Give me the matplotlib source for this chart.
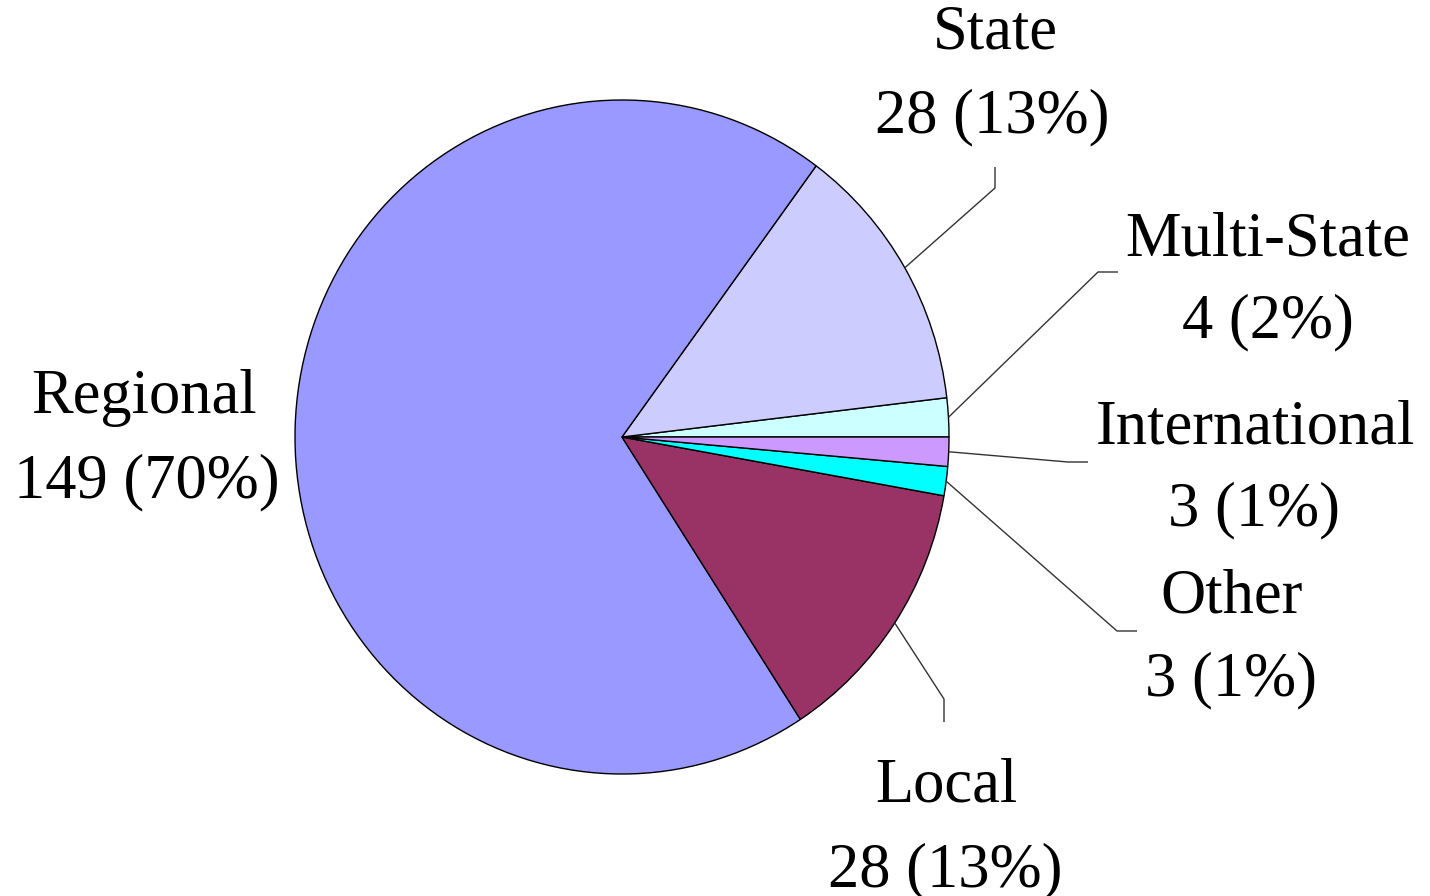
import numpy as np
import matplotlib
matplotlib.use("Agg")
import matplotlib.pyplot as plt

# Data (counter-clockwise from 0 degrees)
categories = ["Multi-State", "State", "Regional", "Local", "Other", "International"]
counts = [4, 28, 149, 28, 3, 3]
pct_labels = ["2%", "13%", "70%", "13%", "1%", "1%"]
colors = ["#CCFFFF", "#CCCCFF", "#9999FF", "#993366", "#00FFFF", "#CC99FF"]

W, H = 1430, 896
CX, CY = 622, 437       # pie centre in pixels
RX, RY = 327, 337       # pie radii in pixels

fig = plt.figure(figsize=(W / 100, H / 100), dpi=100)
ax = fig.add_axes([0, 0, 1, 1])
ax.set_xlim(-CX / RX, (W - CX) / RX)
ax.set_ylim(-(H - CY) / RY, CY / RY)
ax.axis("off")

wedges, _ = ax.pie(counts, colors=colors, startangle=0, counterclock=True,
                   radius=1.0, center=(0, 0), frame=True,
                   wedgeprops=dict(edgecolor="black", linewidth=1.0))
ax.set_xlim(-CX / RX, (W - CX) / RX)
ax.set_ylim(-(H - CY) / RY, CY / RY)
ax.set_aspect("auto")
ax.axis("off")


def px(x, y):
    return (x - CX) / RX, (CY - y) / RY


font = dict(family=["Liberation Serif", "DejaVu Serif"], fontsize=45, color="black")

# label layout: (line1 centre x, line1 baseline, line2 centre x, line2 baseline, leader path pixels or None)
layout = {
    "State": (995, 48, 992, 132, [(995, 188), (995, 167)]),
    "Multi-State": (1268, 255, 1268, 337, [(1098, 272), (1118, 272)]),
    "International": (1255, 443, 1254, 525, [(1068, 462), (1088, 462)]),
    "Other": (1232, 612, 1231, 695, [(1117, 631), (1137, 631)]),
    "Local": (946, 802, 945, 886, [(944, 699), (944, 722)]),
    "Regional": (144, 413, 147, 497, None),
}

for w, cat, n, p in zip(wedges, categories, counts, pct_labels):
    x1, b1, x2, b2, path = layout[cat]
    tx, ty = px(x1, b1)
    ax.text(tx, ty, cat, ha="center", va="baseline", **font)
    tx, ty = px(x2, b2)
    ax.text(tx, ty, f"{n} ({p})", ha="center", va="baseline", **font)
    if path is not None:
        mid = np.deg2rad((w.theta1 + w.theta2) / 2)
        xs = [np.cos(mid)] + [px(*q)[0] for q in path]
        ys = [np.sin(mid)] + [px(*q)[1] for q in path]
        ax.plot(xs, ys, color="#333333", linewidth=1.0, solid_capstyle="butt")

fig.savefig("out.png", dpi=100, facecolor="white")
